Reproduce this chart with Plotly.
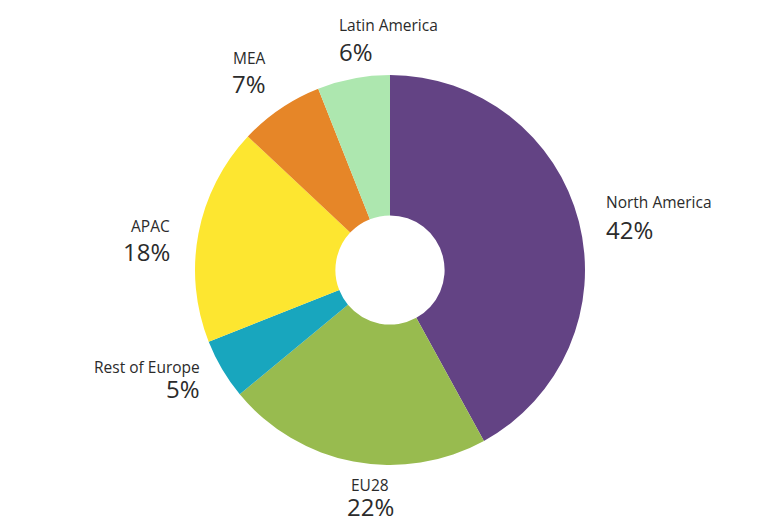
import plotly.graph_objects as go

regions = ["North America", "EU28", "Rest of Europe", "APAC", "MEA", "Latin America"]
shares = [42, 22, 5, 18, 7, 6]
colors = ["#634384", "#98BB4F", "#18A6BE", "#FDE630", "#E68628", "#ADE7AF"]

W, H = 766, 518
CX, CY, R = 390, 270, 195

# label layout in pixels: x, name-line centre y, percent-line centre y, alignment
label_pos = {
    "North America": (604, 202, 229.5, "left"),
    "EU28": (370, 485, 506, "center"),
    "Rest of Europe": (202, 366.5, 388.5, "right"),
    "APAC": (172, 226.5, 251, "right"),
    "MEA": (249, 58, 83.5, "center"),
    "Latin America": (337, 25, 51.5, "left"),
}

fig = go.Figure(go.Pie(
    labels=regions, values=shares, sort=False, direction="clockwise", rotation=0,
    hole=0.28, textinfo="none", hoverinfo="label+percent",
    marker=dict(colors=colors, line=dict(width=0)),
    domain=dict(x=[(CX - R) / W, (CX + R) / W], y=[(H - CY - R) / H, (H - CY + R) / H]),
    showlegend=False,
))

anns = []
for name, val in zip(regions, shares):
    px, ny, py, al = label_pos[name]
    anns.append(dict(x=px / W, y=1 - ny / H, xref="paper", yref="paper", text=name,
                     showarrow=False, xanchor=al, yanchor="middle",
                     font=dict(family="Open Sans", size=15.5, color="#2b2b2b")))
    anns.append(dict(x=px / W, y=1 - py / H, xref="paper", yref="paper",
                     text=f"{val}%", showarrow=False, xanchor=al, yanchor="middle",
                     font=dict(family="Open Sans", size=24, color="#2b2b2b")))

fig.update_layout(width=W, height=H, margin=dict(l=0, r=0, t=0, b=0),
                  paper_bgcolor="white", plot_bgcolor="white", annotations=anns)
fig.write_html("out.html")
